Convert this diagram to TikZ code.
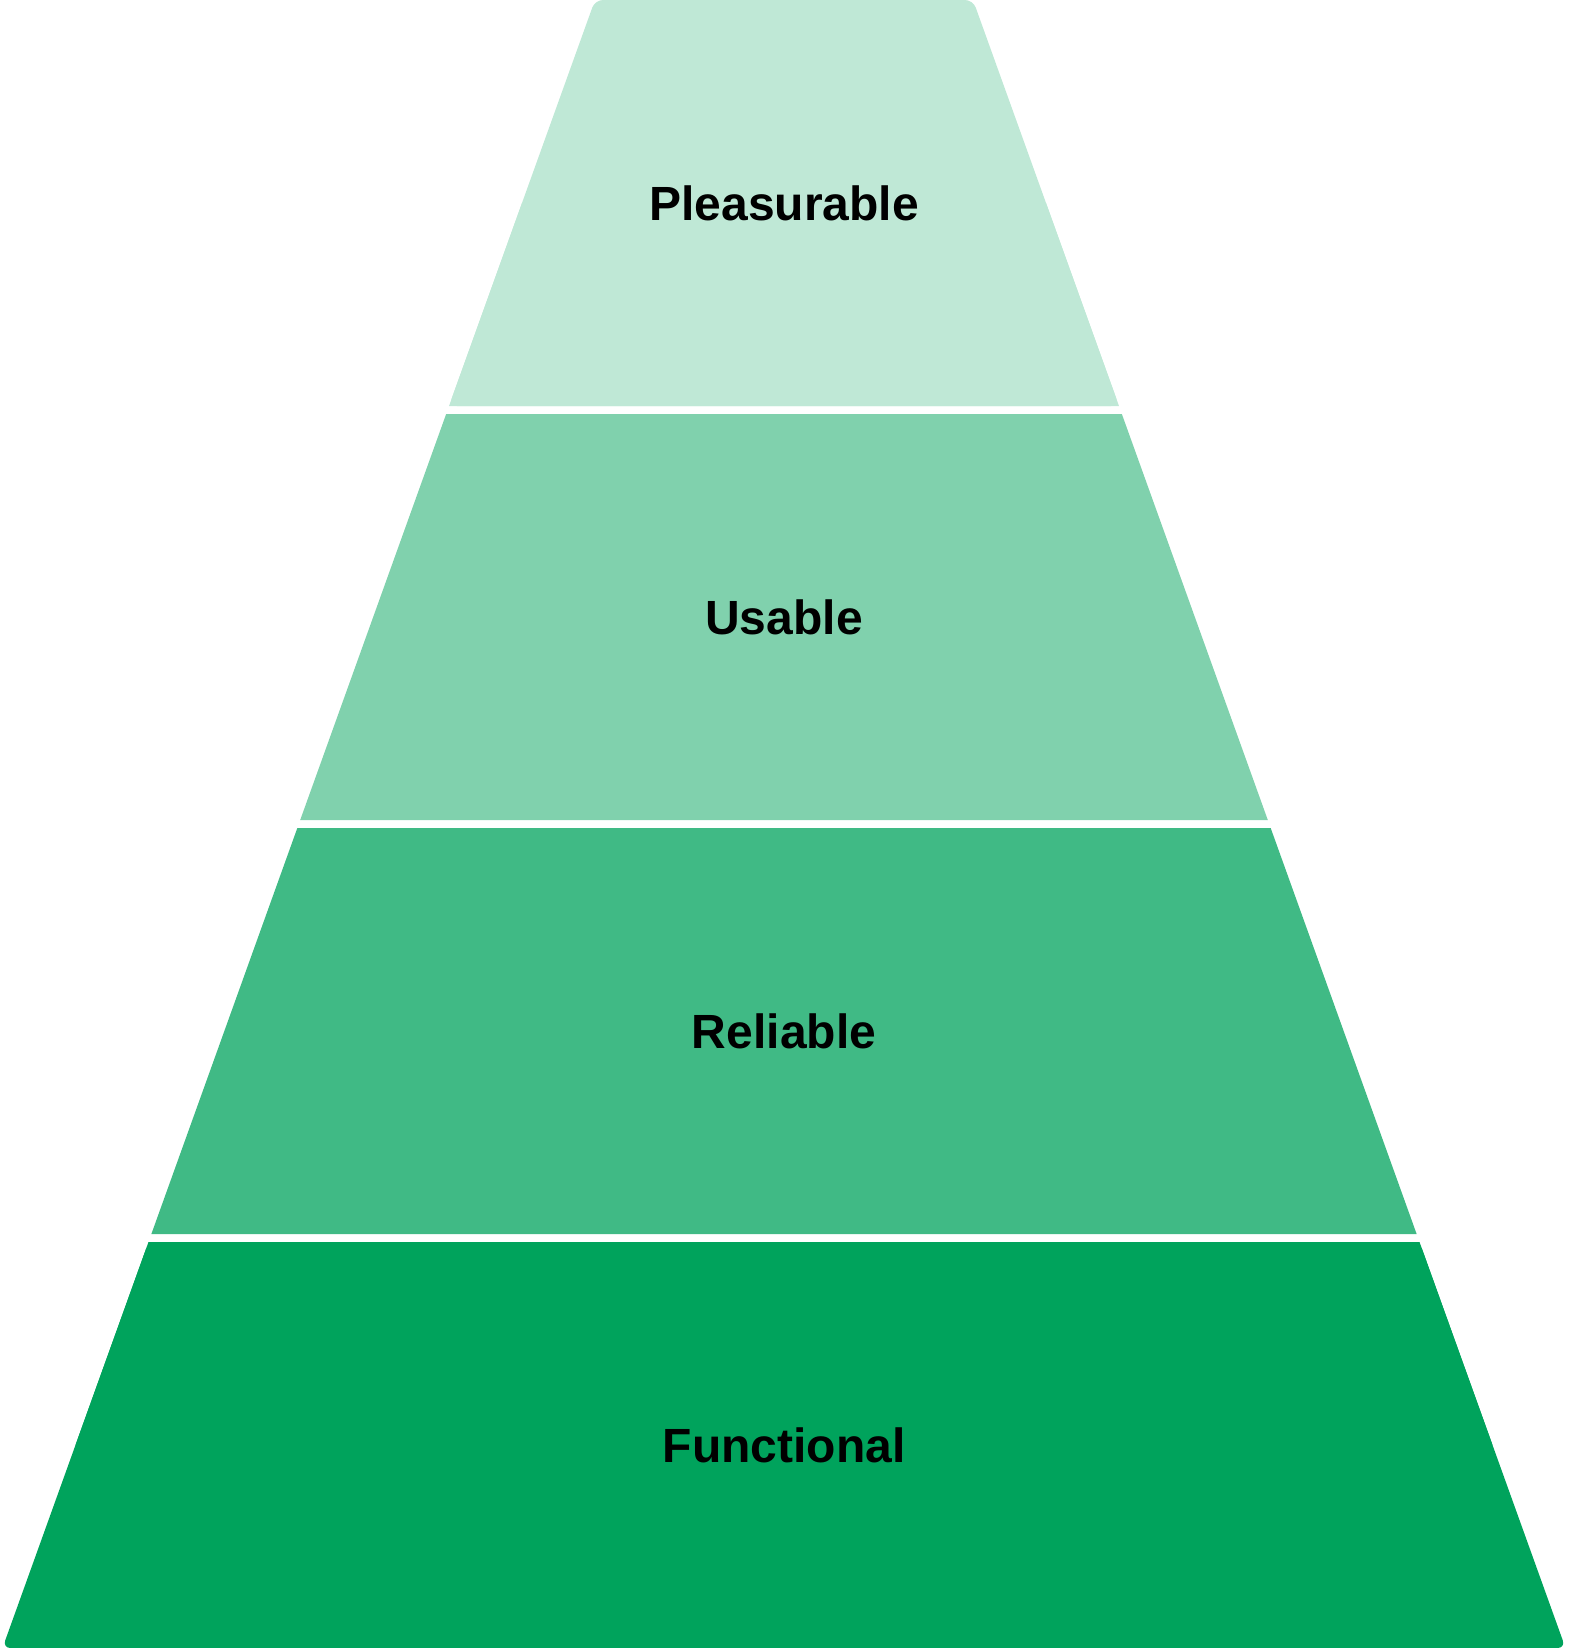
\documentclass[tikz,border=0pt]{standalone}
\usepackage{fontspec}
\setmainfont{Liberation Sans}
\definecolor{fgreen}{HTML}{00A35C}

\begin{document}
\begin{tikzpicture}[x=0.5pt, y=-0.5pt]
\tikzstyle{tier}=[font=\bfseries\fontsize{24}{28}\selectfont, text=black, inner sep=0pt]
\tikzstyle{roundtier}=[rounded corners=4pt]
  \useasboundingbox (0,0) rectangle (1568,1648);
  % outer corners of top and bottom tiers
  \fill[fgreen!25, roundtier] (595,0) -- (973,0) -- (1119,406) -- (449,406) -- cycle;
  \fill[fgreen, roundtier] (148.5,1242) -- (1419.5,1242) -- (1565.5,1648) -- (2.5,1648) -- cycle;
  % tiers
  \foreach \i/\nm/\txt/\tint in {0/plea/Pleasurable/25, 1/usab/Usable/50, 2/reli/Reliable/75, 3/func/Functional/100}{
    \pgfmathsetmacro{\ya}{414*\i}
    \pgfmathsetmacro{\yb}{\ya+406}
    \pgfmathsetmacro{\yc}{\ya+203*(\i==0)}
    \pgfmathsetmacro{\yd}{\yb-203*(\i==3)}
    \pgfmathsetmacro{\ym}{\ya+203}
    \pgfmathsetmacro{\wtop}{189+0.3595*\yc}
    \pgfmathsetmacro{\wbot}{189+0.3595*\yd}
    \fill[fgreen!\tint] (784-\wtop,\yc) -- (784+\wtop,\yc) -- (784+\wbot,\yd) -- (784-\wbot,\yd) -- cycle;
    \node[tier] (\nm) at (784,\ym) {\txt};
  }
\end{tikzpicture}
\end{document}
